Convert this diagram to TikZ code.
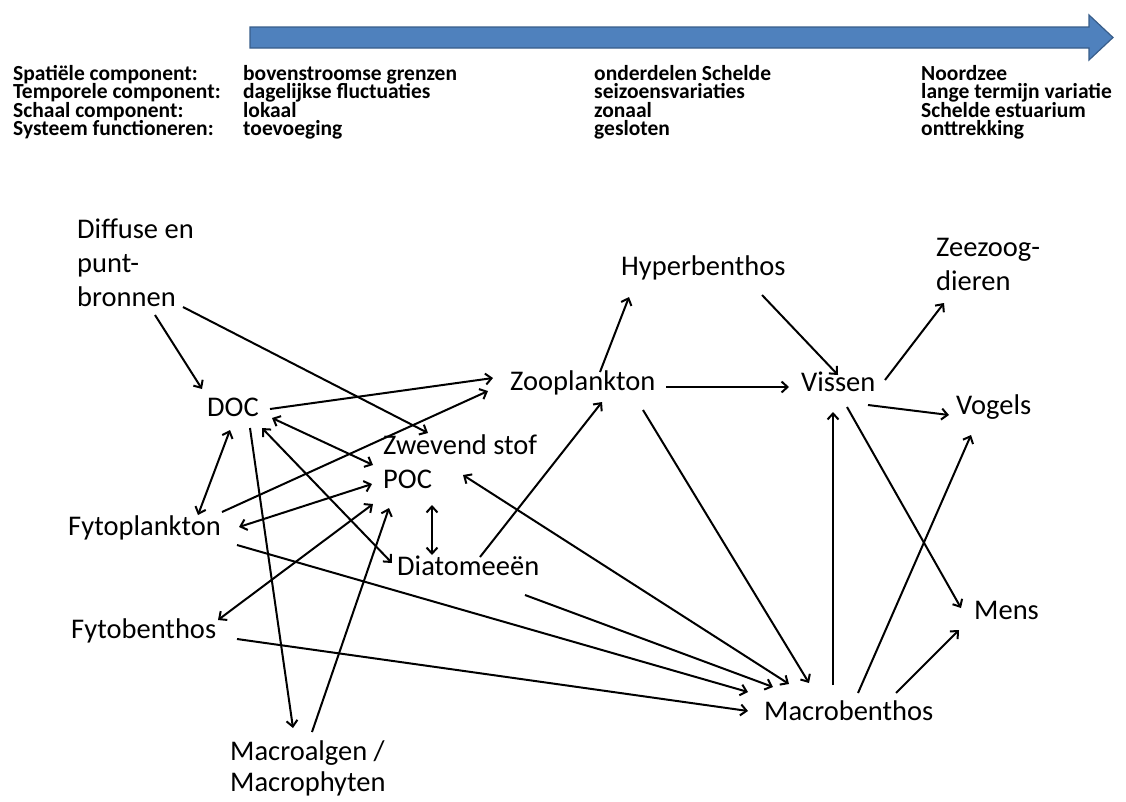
\documentclass[tikz,border=0pt]{standalone}
\usepackage{fontspec}
\setmainfont{Carlito}
\usetikzlibrary{positioning, arrows.meta}
\definecolor{scaleBlue}{HTML}{4F81BD}
\definecolor{scaleEdge}{HTML}{385D8A}
\newcommand{\tightrows}{\lineskiplimit=-50pt\relax}

\tikzset{
  lbl/.style={anchor=west, inner sep=0pt, align=left, font=\fontsize{28.5}{34}\selectfont, text height=0.7em, text depth=0.2em},
  hdr/.style={anchor=west, inner sep=0pt, align=left, font=\fontsize{21.5}{18.5}\selectfont\bfseries\tightrows, text height=0.7em, text depth=0.2em},
  flow/.style={line width=2pt, -{Straight Barb[length=6pt,width=11pt]}},
  both/.style={line width=2pt, {Straight Barb[length=6pt,width=11pt]}-{Straight Barb[length=6pt,width=11pt]}}
}

\begin{document}
\begin{tikzpicture}[x=1pt, y=-1pt]
  \useasboundingbox (0,0) rectangle (1126,801);
  \draw[fill=scaleBlue, draw=scaleEdge, line width=1.2pt]
    (250,27) -- (1089,27) -- (1089,15) -- (1113,37.5) -- (1089,60) -- (1089,48) -- (250,48) -- cycle;

  \node[hdr] (aspects) at (13,133) {Spatiële component:\\Temporele component:\\Schaal component:\\Systeem functioneren:};
  \node[hdr] (upstream) at (243,133) {bovenstroomse grenzen\\dagelijkse fluctuaties\\lokaal\\toevoeging};
  \node[hdr] (midstream) at (594,133) {onderdelen Schelde\\seizoensvariaties\\zonaal\\gesloten};
  \node[hdr] (seaward) at (921,133) {Noordzee\\lange termijn variatie\\Schelde estuarium\\onttrekking};

  \node[lbl] (diffuse) at (77,304) {Diffuse en\\punt-\\bronnen};
  \node[lbl] (doc) at (207,414) {DOC};
  \node[lbl] (zoo) at (510,388) {Zooplankton};
  \node[lbl] (hyper) at (621,273) {Hyperbenthos};
  \node[lbl] (vissen) at (801,389) {Vissen};
  \node[lbl] (zeezoog) at (936,288) {Zeezoog-\\dieren};
  \node[lbl] (vogels) at (956,412) {Vogels};
  \node[lbl] (zwevend) at (383,452) {Zwevend stof};
  \node[lbl] (poc) at (383,486) {POC};
  \node[lbl] (fyto) at (68,533) {Fytoplankton};
  \node[lbl] (diatom) at (397,573) {Diatomeeën};
  \node[lbl] (fytob) at (71,636) {Fytobenthos};
  \node[lbl] (mens) at (974,617) {Mens};
  \node[lbl] (macro) at (764,718) {Macrobenthos};
  \node[lbl, font=\fontsize{28.5}{31}\selectfont] (macroalg) at (230,789) {Macroalgen /\\Macrophyten};

  \draw[flow] ([shift={(78,11)}]diffuse.west) -- ([shift={(-5,-25)}]doc.west);
  \draw[flow] ([shift={(106,3)}]diffuse.west) -- ([shift={(45,-19)}]zwevend.west);
  \draw[flow] ([shift={(63,-5)}]doc.west) -- ([shift={(-17,-10)}]zoo.west);
  \draw[flow] ([shift={(154,-21)}]fyto.west) -- ([shift={(-22,3)}]zoo.west);
  \draw[both] ([shift={(65,4)}]doc.west) -- ([shift={(-10,13)}]zwevend.west);
  \draw[both] ([shift={(55,14)}]doc.west) -- ([shift={(-5,-10)}]diatom.west);
  \draw[both] ([shift={(23,16)}]doc.west) -- ([shift={(130,-18)}]fyto.west);
  \draw[flow] ([shift={(43,14)}]doc.west) -- ([shift={(63,-61)}]macroalg.west);
  \draw[flow] ([shift={(82,-57)}]macroalg.west) -- ([shift={(6,22)}]poc.west);
  \draw[both] ([shift={(171,-6)}]fyto.west) -- ([shift={(-11,-2)}]poc.west);
  \draw[both] ([shift={(147,-16)}]fytob.west) -- ([shift={(-10,18)}]poc.west);
  \draw[both] ([shift={(49,19)}]poc.west) -- ([shift={(35,-18)}]diatom.west);
  \draw[flow] ([shift={(83,-16)}]diatom.west) -- ([shift={(92,14)}]zoo.west);
  \draw[both] ([shift={(80,23)}]zwevend.west) -- ([shift={(25,-34)}]macro.west);
  \draw[flow] ([shift={(133,22)}]zoo.west) -- ([shift={(45,-35)}]macro.west);
  \draw[flow] ([shift={(169,12)}]fyto.west) -- ([shift={(-16,-26)}]macro.west);
  \draw[flow] ([shift={(128,22)}]diatom.west) -- ([shift={(9,-31)}]macro.west);
  \draw[flow] ([shift={(166,3)}]fytob.west) -- ([shift={(-16,-7)}]macro.west);
  \draw[flow] ([shift={(90,-16)}]zoo.west) -- ([shift={(8,24)}]hyper.west);
  \draw[flow] ([shift={(156,-1)}]zoo.west) -- ([shift={(-12,-2)}]vissen.west);
  \draw[flow] ([shift={(141,22)}]hyper.west) -- ([shift={(37,-14)}]vissen.west);
  \draw[flow] ([shift={(84,-9)}]vissen.west) -- ([shift={(8,15)}]zeezoog.west);
  \draw[flow] ([shift={(67,16)}]vissen.west) -- ([shift={(-7,3)}]vogels.west);
  \draw[flow] ([shift={(46,18)}]vissen.west) -- ([shift={(-13,-9)}]mens.west);
  \draw[flow] ([shift={(69,-33)}]macro.west) -- ([shift={(32,23)}]vissen.west);
  \draw[flow] ([shift={(94,-25)}]macro.west) -- ([shift={(15,23)}]vogels.west);
  \draw[flow] ([shift={(132,-25)}]macro.west) -- ([shift={(-15,13)}]mens.west);
\end{tikzpicture}
\end{document}
